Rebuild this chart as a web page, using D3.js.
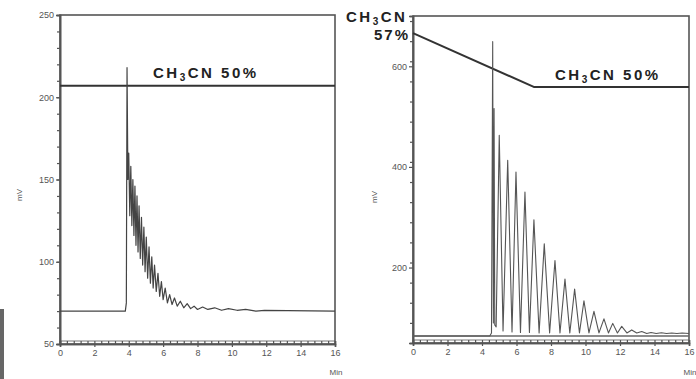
<!DOCTYPE html>
<html><head><meta charset="utf-8">
<script src="https://cdn.jsdelivr.net/npm/d3@7"></script>
<style>
body{margin:0;background:#fff;}
svg{display:block;}
</style></head>
<body><svg id="c" width="696" height="379"></svg>
<script>
// ---- data ----
const xTicks = [0,2,4,6,8,10,12,14,16];
const leftYTicks = [50,100,150,200,250];
const rightYTicks = [200,400,600];

// left chromatogram (time in min, signal in mV)
const leftTime = [0,3.80,3.86,3.90,3.95,4.00,4.06,4.12,4.18,4.24,4.30,4.36,4.42,4.48,4.54,4.60,4.67,4.74,4.81,4.88,4.95,5.02,5.10,5.18,5.26,5.34,5.42,5.50,5.60,5.70,5.80,5.90,6.00,6.12,6.25,6.38,6.52,6.66,6.82,7.0,7.2,7.4,7.6,7.8,8.0,8.3,8.6,9.0,9.4,9.8,10.3,10.8,11.4,11.9,16];
const leftSignal = [70,70,75,218,150,166,128,158,122,150,116,146,110,140,106,134,102,127,98,121,94,115,90,109,87,103,84,98,82,93,79,88,77,84,75,80,74,78,73,76,72,74.5,71.5,73,71,72.5,71,72,70.5,71.5,70.5,71,70,70.5,70];
// left gradient (CH3CN %, drawn at mV level)
const leftGradTime = [0,16];
const leftGradLevel = [207,207];

// right chromatogram (apex / trough points)
const rightTime = [0,4.45,4.55,4.62,4.66,4.70,4.74,4.82,5.00,5.22,5.49,5.74,5.97,6.23,6.49,6.75,7.01,7.31,7.61,7.92,8.23,8.52,8.81,9.09,9.37,9.65,9.91,10.2,10.49,10.78,11.07,11.33,11.58,11.85,12.10,12.40,12.68,12.97,13.26,13.55,13.8,14.1,14.4,14.7,15.0,15.3,15.6,16];
const rightSignal = [64,64,70,649,90,516,86,82,463,74,413,72,390,71,350,71,295,70,247,70,214,70,177,70,157,70,134,70,113,70,98,70,89,70,83,70,76,70,73,69,71,69,70.5,69,70,69,70,69];
const rightBaseTime = [0,16];
const rightBaseSignal = [64,64];
const rightGradTime = [0,7.0,16];
const rightGradLevel = [666,559,559];

// ---- drawing ----
const svg = d3.select("#c");
const ink = "#333";
const axisGray = "#555";

function panel(o){
  const x = d3.scaleLinear().domain([0,16]).range([o.x0,o.x1]);
  const y = d3.scaleLinear().domain(o.yDomain).range([o.y1,o.y0]);
  const g = svg.append("g");
  g.append("rect").attr("x",o.x0).attr("y",o.y0).attr("width",o.x1-o.x0).attr("height",o.y1-o.y0)
    .attr("fill","none").attr("stroke",axisGray).attr("stroke-width",1.6);
  const ya = g.append("g").attr("transform",`translate(${o.x0},0)`)
    .call(d3.axisLeft(y).tickValues(o.yTicks).tickSize(4).tickPadding(2).tickFormat(d3.format("d")));
  const ym = g.append("g").attr("transform",`translate(${o.x0},0)`)
    .call(d3.axisLeft(y).tickValues(d3.range(o.yDomain[0],o.yDomain[1]+0.01,o.yMinor)).tickSize(3).tickFormat(""));
  const xa = g.append("g").attr("transform",`translate(0,${o.y1})`)
    .call(d3.axisBottom(x).tickValues(xTicks).tickSize(3).tickPadding(3).tickFormat(d3.format("d")));
  const xm = g.append("g").attr("transform",`translate(0,${o.y1})`)
    .call(d3.axisBottom(x).tickValues(d3.range(0,16.01,0.4)).tickSize(-3).tickFormat(""));
  [ya,ym,xa,xm].forEach(a=>{
    a.select(".domain").attr("stroke",axisGray).attr("stroke-width",1.6);
    a.selectAll(".tick line").attr("stroke",axisGray).attr("stroke-width",1.2);
    a.selectAll("text").attr("fill","#555").attr("font-size",9).attr("font-family","Liberation Sans, Arial, sans-serif");
  });
  g.append("line").attr("x1",o.x0).attr("x2",o.x1).attr("y1",o.y1-3).attr("y2",o.y1-3)
    .attr("stroke",axisGray).attr("stroke-width",0.8);
  g.append("text").attr("transform",`translate(${o.mvX},${o.mvY}) rotate(-90)`)
    .attr("text-anchor","middle").attr("font-size",8).attr("fill","#555")
    .attr("font-family","Liberation Sans, Arial, sans-serif").text("mV");
  g.append("text").attr("x",o.minX).attr("y",375).attr("text-anchor","middle").attr("font-size",8).attr("fill","#555")
    .attr("font-family","Liberation Sans, Arial, sans-serif").text("Min");
  return {x,y,g};
}

function trace(p,ts,vs,color,w){
  const pts = ts.map((t,i)=>[t,vs[i]]);
  p.g.append("path").attr("d",d3.line().x(d=>p.x(d[0])).y(d=>p.y(d[1]))(pts))
    .attr("fill","none").attr("stroke",color).attr("stroke-width",w).attr("stroke-linejoin","round");
}

function label(g,x,y,main,sub,rest){
  const t = g.append("text").attr("x",x).attr("y",y).attr("font-family","Liberation Sans, Arial, sans-serif")
    .attr("font-weight","bold").attr("font-size",15).attr("letter-spacing",2.5).attr("fill","#222");
  t.append("tspan").text(main);
  t.append("tspan").attr("font-size",10).attr("dy",3).text(sub);
  t.append("tspan").attr("dy",-3).text(rest);
  return t;
}

// Left panel
const L = panel({x0:60,x1:335,y0:15,y1:344,yDomain:[50,250],yTicks:leftYTicks,yMinor:10,mvX:22,mvY:195,minX:336});
trace(L,leftGradTime,leftGradLevel,ink,2);
trace(L,leftTime,leftSignal,"#444",1.2);
label(L.g,153,78,"CH","3","CN  50%");

// Right panel
const R = panel({x0:413,x1:689,y0:16,y1:343,yDomain:[50,700],yTicks:rightYTicks,yMinor:40,mvX:377,mvY:197,minX:690});
trace(R,rightGradTime,rightGradLevel,ink,2);
trace(R,rightBaseTime,rightBaseSignal,"#666",1.4);
trace(R,rightTime,rightSignal,"#555",1.1);
label(R.g,555,80,"CH","3","CN  50%");
label(R.g,346,22,"CH","3","CN");
R.g.append("text").attr("x",410).attr("y",40).attr("text-anchor","end")
  .attr("font-family","Liberation Sans, Arial, sans-serif").attr("font-weight","bold")
  .attr("font-size",15).attr("letter-spacing",2).attr("fill","#222").text("57%");

// dark bar at left edge of the reference image
svg.append("rect").attr("x",0).attr("y",309).attr("width",4).attr("height",70).attr("fill","#666");
</script></body></html>
